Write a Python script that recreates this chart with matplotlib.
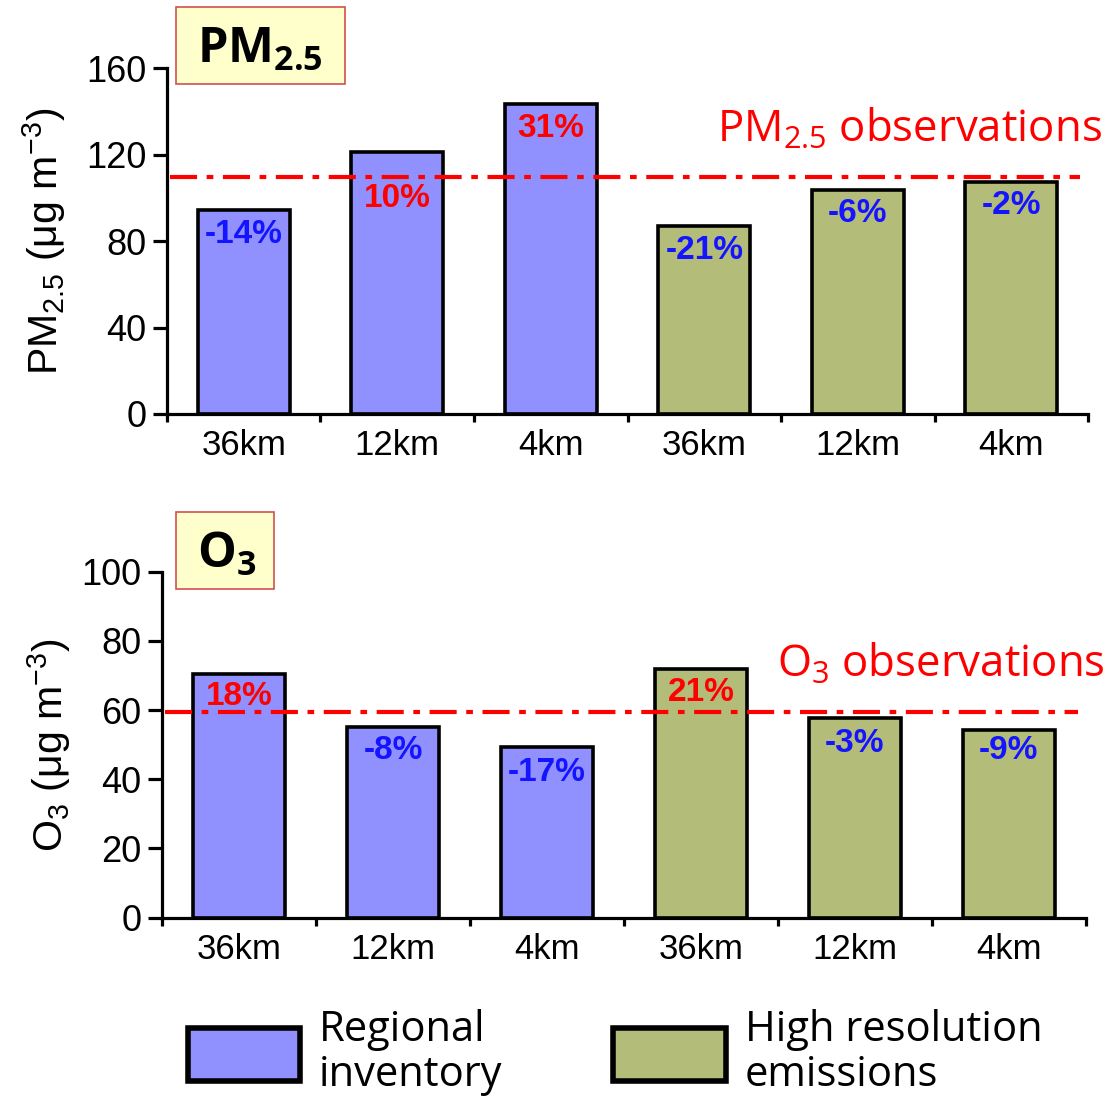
import matplotlib.pyplot as plt
from matplotlib.patches import Patch, Rectangle

# data
cats = ['36km', '12km', '4km', '36km', '12km', '4km']
pm_vals = [94.5, 121, 143.5, 87, 103.5, 107.5]
pm_obs = 109.5
pm_pct = ['-14%', '10%', '31%', '-21%', '-6%', '-2%']
o3_vals = [70.3, 55.1, 49.2, 71.9, 57.7, 54.3]
o3_obs = 59.5
o3_pct = ['18%', '-8%', '-17%', '21%', '-3%', '-9%']
groups = ['Regional\ninventory', 'High resolution\nemissions']

blue = '#9090ff'
olive = '#b4bc7a'
bar_colors = [blue] * 3 + [olive] * 3

plt.rcParams['font.family'] = ['Liberation Sans', 'DejaVu Sans']
plt.rcParams['mathtext.fontset'] = 'custom'
plt.rcParams['mathtext.rm'] = 'Open Sans'
plt.rcParams['mathtext.it'] = 'Open Sans'
plt.rcParams['mathtext.bf'] = 'Open Sans:bold'
plt.rcParams['mathtext.sf'] = 'Liberation Sans'

fig = plt.figure(figsize=(11.14, 10.99), dpi=100)
ax1 = fig.add_axes([0.1499, 0.6233, 0.8268, 0.3148])
ax2 = fig.add_axes([0.1454, 0.1650, 0.8294, 0.3148])

x = list(range(1, 7))


def style_axis(ax, ymax, ystep):
    ax.set_xlim(0.5, 6.5)
    ax.set_ylim(0, ymax)
    ax.spines['top'].set_visible(False)
    ax.spines['right'].set_visible(False)
    ax.spines['left'].set_linewidth(2.3)
    ax.spines['bottom'].set_linewidth(2.3)
    ax.set_yticks(range(0, ymax + 1, ystep))
    ax.tick_params(axis='y', direction='out', length=10, width=2.3,
                   labelsize=26, pad=5)
    ax.set_xticks([i + 0.5 for i in range(0, 7)])
    ax.set_xticklabels([])
    ax.tick_params(axis='x', which='major', direction='out', length=6, width=2.3)
    ax.set_xticks(x, minor=True)
    ax.set_xticklabels(cats, minor=True)
    ax.tick_params(axis='x', which='minor', length=0, labelsize=25, pad=11)
    ax.patch.set_alpha(0)


def draw_panel(ax, vals, obs, pct, offsets):
    ax.bar(x, vals, width=0.6, color=bar_colors, edgecolor='black',
           linewidth=2.6, zorder=2)
    ax.plot([0.52, 6.45], [obs, obs], color='red', lw=3,
            linestyle=(0, (6.5, 2.3, 1.6, 2.3)), zorder=3)
    for xi, v, t, off in zip(x, vals, pct, offsets):
        col = 'red' if not t.startswith('-') else '#1414ff'
        ax.annotate(t, (xi, v), xytext=(0, off), textcoords='offset points',
                    ha='center', va='center', fontsize=24, fontweight='bold',
                    color=col, zorder=4)


style_axis(ax1, 160, 40)
style_axis(ax2, 100, 20)
draw_panel(ax1, pm_vals, pm_obs, pm_pct, [-18, -33, -18, -18, -17, -17])
draw_panel(ax2, o3_vals, o3_obs, o3_pct, [-16, -17, -18, -17, -18, -15])

ax1.set_ylabel(r'PM$_{\mathsf{2.5}}$ (μg m$^{\mathsf{-3}}$)', fontsize=29.5, labelpad=13)
ax2.set_ylabel(r'O$_{\mathsf{3}}$ (μg m$^{\mathsf{-3}}$)', fontsize=29.5, labelpad=6)

# panel title boxes
for bx, bw, by in [(0.158, 0.1517, 0.9236), (0.158, 0.088, 0.4641)]:
    fig.patches.append(Rectangle((bx, by), bw, 0.0701, transform=fig.transFigure,
                                 facecolor='#ffffcc', edgecolor='#d05050', lw=1.2))
fig.text(0.177, 0.9427, r'PM$_{\mathbf{2.5}}$', fontsize=35, fontweight='bold',
         family='Open Sans', va='baseline', ha='left')
fig.text(0.177, 0.4832, r'O$_{\mathbf{3}}$', fontsize=35, fontweight='bold',
         family='Open Sans', va='baseline', ha='left')

# observation labels
ax1.text(1.015, 0.786, r'PM$_{2.5}$ observations', transform=ax1.transAxes,
         fontsize=31.5, color='red', family='Open Sans', ha='right', va='baseline')
ax2.text(1.02, 0.696, r'O$_3$ observations', transform=ax2.transAxes,
         fontsize=31.5, color='red', family='Open Sans', ha='right', va='baseline')

handles = [Patch(facecolor=blue, edgecolor='black', linewidth=4),
           Patch(facecolor=olive, edgecolor='black', linewidth=4)]
leg = fig.legend(handles, groups, loc='lower left', bbox_to_anchor=(0.135, -0.031),
                 ncol=2, frameon=False, handlelength=2.7, handleheight=1.6,
                 handletextpad=0.45, columnspacing=2.66,
                 prop={'family': 'Open Sans', 'size': 30})
for t in leg.get_texts():
    t.set_linespacing(1.08)

fig.savefig('out.png', dpi=100)
